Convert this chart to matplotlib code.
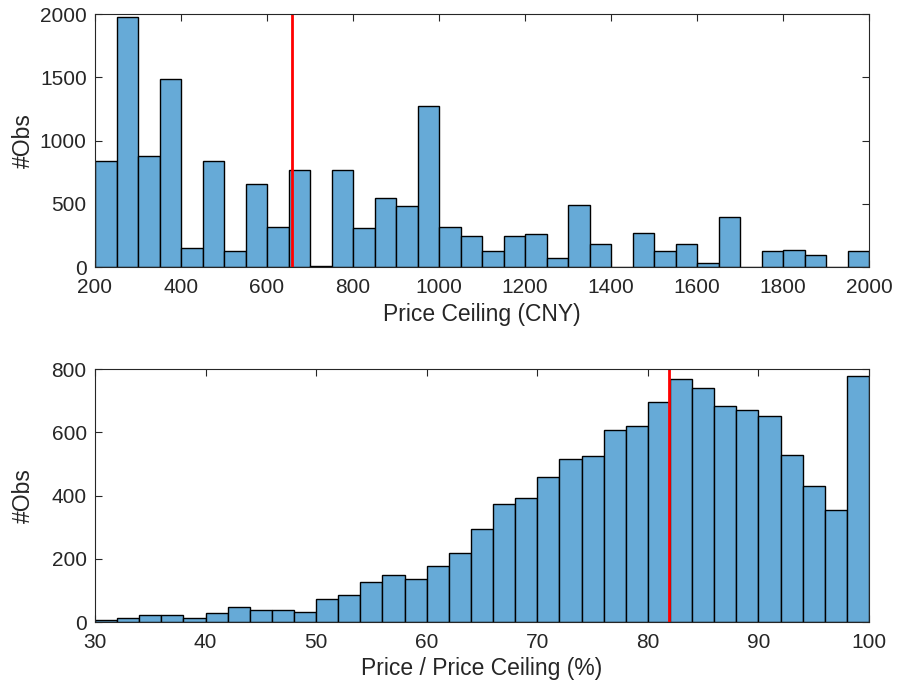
import numpy as np
import matplotlib
matplotlib.use("Agg")
import matplotlib.pyplot as plt

plt.rcParams['font.family'] = ['Liberation Sans', 'DejaVu Sans']

# price ceiling histogram (CNY), bins of 50 from 200 to 2000
ceil_edges = np.arange(200, 2001, 50)
ceil_counts = [839, 1979, 874, 1487, 153, 839, 126, 660, 313, 766,
               10, 763, 310, 547, 484, 1271, 318, 247, 129, 247,
               263, 71, 489, 184, 0, 271, 124, 184, 32, 397,
               0, 129, 137, 92, 0, 129]
ceil_mark = 658

# price / price ceiling histogram (%), bins of 2 from 30 to 100
ratio_edges = np.arange(30, 101, 2)
ratio_counts = [6, 13, 21, 21, 14, 28, 46, 37, 37, 33,
                72, 85, 126, 149, 137, 176, 218, 294, 373, 392,
                457, 516, 526, 608, 619, 696, 767, 741, 684, 671,
                651, 529, 430, 353, 777]
ratio_mark = 81.9

face = '#66aad7'
axcol = '#262626'

fig = plt.figure(figsize=(8.98, 6.91), dpi=100)
ax1 = fig.add_axes([95/898, 1-267/691, 774/898, 253/691])
ax2 = fig.add_axes([95/898, 1-622/691, 774/898, 253/691])


def draw(ax, edges, counts, mark, xlim, ylim, xticks, yticks, xlabel):
    ax.bar(edges[:-1], counts, width=np.diff(edges), align='edge',
           color=face, edgecolor='black', linewidth=1.0, zorder=2)
    ax.axvline(mark, color='red', linewidth=2, zorder=3)
    ax.set_xlim(xlim)
    ax.set_ylim(ylim)
    ax.set_xticks(xticks)
    ax.set_yticks(yticks)
    ax.tick_params(direction='in', top=True, right=True, length=5,
                   width=0.8, color=axcol, labelsize=15, labelcolor=axcol)
    ax.tick_params(axis='x', pad=8)
    ax.tick_params(axis='y', pad=6)
    for s in ax.spines.values():
        s.set_color(axcol)
        s.set_linewidth(0.8)
        s.set_zorder(4)
    ax.set_xlabel(xlabel, fontsize=16.5, color=axcol, va='center')
    ax.set_ylabel('#Obs', fontsize=16.5, color=axcol, va='center')
    ax.xaxis.set_label_coords(0.5, -47/253)
    ax.yaxis.set_label_coords(-72/774, 0.5)


draw(ax1, ceil_edges, ceil_counts, ceil_mark, (200, 2000), (0, 2000),
     np.arange(200, 2001, 200), np.arange(0, 2001, 500), 'Price Ceiling (CNY)')
draw(ax2, ratio_edges, ratio_counts, ratio_mark, (30, 100), (0, 800),
     np.arange(30, 101, 10), np.arange(0, 801, 200), 'Price / Price Ceiling (%)')

fig.savefig('out.png', dpi=100)
